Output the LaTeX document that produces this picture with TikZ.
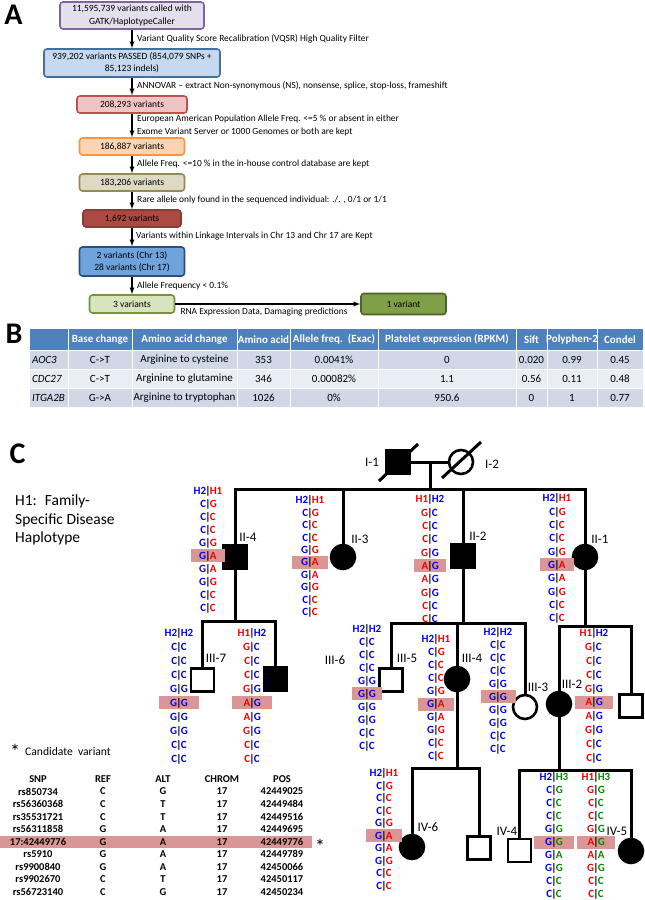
\documentclass[tikz,border=0pt]{standalone}
\usepackage{fontspec}
\setmainfont{Carlito}
\usepackage{xcolor}
\usetikzlibrary{positioning}
\definecolor{box1fill}{HTML}{E4DFEC}
\definecolor{box1line}{HTML}{8064A2}
\definecolor{box2fill}{HTML}{C6D9F0}
\definecolor{box2line}{HTML}{41719C}
\definecolor{box3fill}{HTML}{EDC5C4}
\definecolor{box3line}{HTML}{C0504D}
\definecolor{box4fill}{HTML}{FBD4B4}
\definecolor{box4line}{HTML}{F79646}
\definecolor{box5fill}{HTML}{DDD9C3}
\definecolor{box5line}{HTML}{948A54}
\definecolor{box6fill}{HTML}{AA4A43}
\definecolor{box6line}{HTML}{8C3A35}
\definecolor{box7fill}{HTML}{6FA3DC}
\definecolor{box7line}{HTML}{2A4F7F}
\definecolor{box8fill}{HTML}{D7E4BD}
\definecolor{box8line}{HTML}{77933C}
\definecolor{box9fill}{HTML}{7F9F48}
\definecolor{box9line}{HTML}{4F6228}
\definecolor{tabhead}{HTML}{4F81BD}
\definecolor{rowA}{HTML}{D0D8E8}
\definecolor{rowB}{HTML}{E9EDF4}
\definecolor{hilite}{HTML}{D99694}
\definecolor{hapblue}{HTML}{0000F0}
\definecolor{hapred}{HTML}{F00000}
\definecolor{hapgreen}{HTML}{008A00}
\tikzset{
    block/.style={
        draw, line width=1.6, rounded corners=3,
        minimum height=17, inner sep=1,
        align=center,
        font=\fontsize{9.5}{12.3}\selectfont
    },
    filterlabel/.style={anchor=west, inner sep=0, align=left, font=\fontsize{9.4}{13}\selectfont},
    line/.style={-latex, line width=1.3},
    panel/.style={inner sep=0, font=\bfseries\fontsize{30}{32}\selectfont},
    tabtext/.style={inner sep=0, font=\fontsize{11}{12}\selectfont},
    tabhd/.style={inner sep=0, text=white, font=\bfseries\fontsize{11}{12}\selectfont},
    pedline/.style={line width=3},
    male/.style={draw, rectangle, line width=2.6, minimum size=23, inner sep=0},
    female/.style={draw, circle, line width=2.6, minimum size=24, inner sep=0},
    affected/.style={fill=black},
    healthy/.style={fill=white},
    pedlabel/.style={inner sep=0, font=\fontsize{13}{14}\selectfont},
    hap/.style={inner sep=0, font=\bfseries\fontsize{11}{12}\selectfont},
    snptext/.style={inner sep=0, font=\bfseries\fontsize{10.5}{11}\selectfont}
}
% haplotype column: name, x of bar, y of header, row step, half width of mark, left colour, right colour, rows
\newcommand{\hapcol}[8]{%
    \fill[hilite] (#2-#5,#3+5*#4-6.5) rectangle (#2+#5,#3+5*#4+6.5);
    \foreach \a/\b [count=\i from 0] in {#8}{%
        \node[hap, text=#6, anchor=base east] (#1-l\i) at (#2-1.6,#3+\i*#4+3.9) {\a};
        \node[hap, anchor=base] (#1-m\i) at (#2,#3+\i*#4+3.9) {|};
        \node[hap, text=#7, anchor=base west] (#1-r\i) at (#2+1.6,#3+\i*#4+3.9) {\b};
    }%
}

\begin{document}
\begin{tikzpicture}[x=1pt, y=-1pt]
\useasboundingbox (0,0) rectangle (645,900);
\fill[white] (0,0) rectangle (645,900);

% Panel letters
\node[panel] (pA) at (13.5,14.5) {A};
\node[panel] (pB) at (14,334) {B};
\node[panel] (pC) at (17.5,454) {C};

% A: filtering steps
\node[block, fill=box1fill, draw=box1line, minimum width=144, minimum height=27] (b1) at (132,15.5) {11,595,739 variants called with\\GATK/HaplotypeCaller};
\node[block, fill=box2fill, draw=box2line, minimum width=176, minimum height=28] (b2) at (132,63) {939,202 variants PASSED (854,079 SNPs +\\85,123 indels)};
\node[block, fill=box3fill, draw=box3line, minimum width=110] (b3) at (132,104.5) {208,293 variants};
\node[block, fill=box4fill, draw=box4line, minimum width=105] (b4) at (132,146.5) {186,887 variants};
\node[block, fill=box5fill, draw=box5line, minimum width=105] (b5) at (132,182.5) {183,206 variants};
\node[block, fill=box6fill, draw=box6line, minimum width=98] (b6) at (132,218.5) {1,692 variants};
\node[block, fill=box7fill, draw=box7line, minimum width=105, minimum height=29] (b7) at (132,261.5) {2 variants (Chr 13)\\28 variants (Chr 17)};
\node[block, fill=box8fill, draw=box8line, minimum width=85, minimum height=18] (b8) at (132,304) {3 variants};
\node[block, fill=box9fill, draw=box9line, minimum width=85, minimum height=21] (b9) at (403.5,304) {1 variant};

\draw[line] (b1) -- (b2);
\draw[line] (b2) -- (b3);
\draw[line] (b3) -- (b4);
\draw[line] (b4) -- (b5);
\draw[line] (b5) -- (b6);
\draw[line] (b6) -- (b7);
\draw[line] (b7) -- (b8);
\draw[line] (b8) -- (b9);

\node[filterlabel] (f1) at (137,39) {Variant Quality Score Recalibration (VQSR) High Quality Filter};
\node[filterlabel] (f2) at (137,86) {ANNOVAR – extract Non-synonymous (NS), nonsense, splice, stop-loss, frameshift};
\node[filterlabel] (f3) at (137,125.5) {European American Population Allele Freq. <=5 \% or absent in either\\Exome Variant Server or 1000 Genomes or both are kept};
\node[filterlabel] (f4) at (137,164) {Allele Freq. <=10 \% in the in-house control database are kept};
\node[filterlabel] (f5) at (137,200) {Rare allele only found in the sequenced individual: ./. , 0/1 or 1/1};
\node[filterlabel] (f6) at (136,236) {Variants within Linkage Intervals in Chr 13 and Chr 17 are Kept};
\node[filterlabel] (f7) at (137,286) {Allele Frequency < 0.1\%};
\node[filterlabel, anchor=center] (f8) at (264,312) {RNA Expression Data, Damaging predictions};

% B: table
\fill[tabhead] (30,329) rectangle (643,350);
\fill[rowA] (30,350) rectangle (643,369);
\fill[rowB] (30,369) rectangle (643,388);
\fill[rowA] (30,388) rectangle (643,407);
\foreach \xc/\hd [count=\c] in {100/Base change, 184.5/Amino acid change, 263.5/Amino acid, 334/Allele freq.\ \ (Exac), 447/Platelet expression (RPKM), 531.5/Sift, 572/Polyphen-2, 620/Condel}
    \node[tabhd] (hd-\c) at (\xc,339.5) {\hd};
\foreach \xs in {68,132,237,290,378,516,547,597}
    \draw[white, line width=1] (\xs,329) -- (\xs,407);
\foreach \ys in {350,369,388}
    \draw[white, line width=1] (30,\ys) -- (643,\ys);
\node[tabtext, anchor=west] (g1) at (32,360) {\textit{AOC3}};
\node[tabtext, anchor=west] (g2) at (32,379) {\textit{CDC27}};
\node[tabtext, anchor=west] (g3) at (32,398) {\textit{ITGA2B}};
\foreach \xc/\v [count=\c] in {100/C->T, 184.5/Arginine to cysteine, 263.5/353, 334/0.0041\%, 447/0, 531.5/0.020, 572/0.99, 620/0.45}
    \node[tabtext] (aoc-\c) at (\xc,360) {\v};
\foreach \xc/\v [count=\c] in {100/C->T, 184.5/Arginine to glutamine, 263.5/346, 334/0.00082\%, 447/1.1, 531.5/0.56, 572/0.11, 620/0.48}
    \node[tabtext] (cdc-\c) at (\xc,379) {\v};
\foreach \xc/\v [count=\c] in {100/G->A, 184.5/Arginine to tryptophan, 263.5/1026, 334/0\%, 447/950.6, 531.5/0, 572/1, 620/0.77}
    \node[tabtext] (itg-\c) at (\xc,398) {\v};

% C: pedigree
\node[inner sep=0, anchor=north west, align=left, font=\fontsize{15.5}{18.5}\selectfont] (h1note) at (15,495) {H1:\hspace{8pt}Family-\\Specific Disease\\Haplotype};

% Generation I
\node[male, affected] (I1) at (398,462) {};
\node[female, healthy] (I2) at (461,462) {};
\draw[pedline] (I1) -- (I2);
\draw[pedline] ([shift={(-19,19)}]I1.center) -- ([shift={(20,-18)}]I1.center);
\draw[pedline] ([shift={(-19,16)}]I2.center) -- ([shift={(20,-20)}]I2.center);
\node[pedlabel] (lI1) at (372,462) {I-1};
\node[pedlabel] (lI2) at (492,464) {I-2};
\coordinate (c1) at (430,462);
\coordinate (s1) at (430,489);
\coordinate (s1r) at (585,489);
\draw[pedline] (c1) -- (s1);

% Generation II
\node[male, affected] (II4) at (235,557) {};
\node[female, affected] (II3) at (343,557) {};
\node[male, affected] (II2) at (463,556) {};
\node[female, affected] (II1) at (585,557) {};
\draw[pedline] (II4) |- (s1r) -- (II1);
\draw[pedline] (II3 |- s1r) -- (II3);
\draw[pedline] (II2 |- s1r) -- (II2);
\node[pedlabel] (lII4) at (248,537) {II-4};
\node[pedlabel] (lII3) at (360,539) {II-3};
\node[pedlabel] (lII2) at (478,536) {II-2};
\node[pedlabel] (lII1) at (600,539) {II-1};

% Generation III
\coordinate (s2) at (235,621);
\coordinate (s3) at (463,623);
\coordinate (s4) at (585,626);
\node[male, healthy] (III7) at (202.5,680) {};
\node[male, affected] (III8) at (275.5,679) {};
\node[male, healthy] (III5) at (391,680) {};
\node[female, affected] (III4) at (457,679) {};
\node[female, healthy] (III3) at (525,707) {};
\node[female, affected] (III2) at (559,704) {};
\node[male, healthy] (III1) at (631,706) {};
\draw[pedline] (II4) -- (s2);
\draw[pedline] (III7) |- (s2) -| (III8);
\draw[pedline] (II2) -- (s3);
\draw[pedline] (III5) |- (s3) -| (III3);
\draw[pedline] (III4 |- s3) -- (III4);
\draw[pedline] (II1) -- (s4);
\draw[pedline] (III2) |- (s4) -| (III1);
\node[pedlabel] (lIII7) at (216,658) {III-7};
\node[pedlabel] (lIII6) at (335,660) {III-6};
\node[pedlabel] (lIII5) at (407,658) {III-5};
\node[pedlabel] (lIII4) at (472,658) {III-4};
\node[pedlabel] (lIII3) at (538,687) {III-3};
\node[pedlabel] (lIII2) at (572,684) {III-2};

% Generation IV
\coordinate (s5) at (457,768);
\coordinate (s6) at (559,770);
\node[female, affected] (IV6) at (412,847) {};
\node[male, healthy] (IV7) at (479,848) {};
\node[male, healthy] (IV4) at (519.5,850.5) {};
\node[female, affected] (IV5) at (631,851) {};
\draw[pedline] (III4) -- (s5);
\draw[pedline] (IV6) |- (s5) -| (IV7);
\draw[pedline] (III2) -- (s6);
\draw[pedline] (IV4) |- (s6) -| (IV5);
\node[pedlabel] (lIV6) at (428,827) {IV-6};
\node[pedlabel] (lIV4) at (507,831) {IV-4};
\node[pedlabel] (lIV5) at (617,831) {IV-5};

% Haplotypes
\hapcol{hII4}{208}{491}{12.9}{17}{hapblue}{hapred}{H2/H1, C/G, C/C, C/C, G/G, G/A, G/A, G/G, C/C, C/C}
\hapcol{hII3}{310}{500}{12.4}{18}{hapblue}{hapred}{H2/H1, C/G, C/C, C/C, G/G, G/A, G/A, G/G, C/C, C/C}
\hapcol{hII2}{430}{499}{13.3}{16}{hapred}{hapblue}{H1/H2, G/C, C/C, C/C, G/G, A/G, A/G, G/G, C/C, C/C}
\hapcol{hII1}{557}{498}{13.3}{17}{hapblue}{hapred}{H2/H1, C/G, C/C, C/C, G/G, G/A, G/A, G/G, C/C, C/C}
\hapcol{hIII7}{179}{633}{13.9}{20}{hapblue}{hapblue}{H2/H2, C/C, C/C, C/C, G/G, G/G, G/G, G/G, C/C, C/C}
\hapcol{hIII8}{252}{633}{13.9}{20}{hapred}{hapblue}{H1/H2, G/C, C/C, C/C, G/G, A/G, A/G, G/G, C/C, C/C}
\hapcol{hIII5}{367}{629}{12.9}{15}{hapblue}{hapblue}{H2/H2, C/C, C/C, C/C, G/G, G/G, G/G, G/G, C/C, C/C}
\hapcol{hIII4}{436}{639}{13}{18}{hapblue}{hapred}{H2/H1, C/G, C/C, C/C, G/G, G/A, G/A, G/G, C/C, C/C}
\hapcol{hIII3}{498}{632}{12.9}{17.5}{hapblue}{hapblue}{H2/H2, C/C, C/C, C/C, G/G, G/G, G/G, G/G, C/C, C/C}
\hapcol{hIII2}{594}{633}{13.8}{19}{hapred}{hapblue}{H1/H2, G/C, C/C, C/C, G/G, A/G, A/G, G/G, C/C, C/C}
\hapcol{hIV6}{384}{773}{12.5}{18}{hapblue}{hapred}{H2/H1, C/G, C/C, C/C, G/G, G/A, G/A, G/G, C/C, C/C}
\hapcol{hIV4}{554}{777}{13}{20}{hapblue}{hapgreen}{H2/H3, C/G, C/C, C/C, G/G, G/G, G/A, G/G, C/C, C/C}
\hapcol{hIV5}{596}{777}{13}{19}{hapred}{hapgreen}{H1/H3, G/G, C/C, C/C, G/G, A/G, A/A, G/G, C/C, C/C}

% SNP list
\node[inner sep=0, font=\fontsize{20}{20}\selectfont] (star1) at (15,751) {*};
\node[inner sep=0, anchor=west, font=\fontsize{11.6}{13}\selectfont] (cand) at (25,752) {Candidate\ \ variant};
\fill[hilite] (0,836) rectangle (312,848);
\foreach \sn/\rf/\al/\ch/\ps [count=\r from 0] in {SNP/REF/ALT/CHROM/POS, rs850734/C/G/17/42449025, rs56360368/C/T/17/42449484, rs35531721/C/T/17/42449516, rs56311858/G/A/17/42449695, 17:42449776/G/A/17/42449776, rs5910/G/A/17/42449789, rs9900840/G/A/17/42450066, rs9902670/C/T/17/42450117, rs56723140/C/G/17/42450234}{
    \node[snptext] (snp-\r-1) at (38,779+\r*12.55) {\sn};
    \node[snptext] (snp-\r-2) at (103,779+\r*12.55) {\rf};
    \node[snptext] (snp-\r-3) at (163,779+\r*12.55) {\al};
    \node[snptext] (snp-\r-4) at (222,779+\r*12.55) {\ch};
    \node[snptext] (snp-\r-5) at (282,779+\r*12.55) {\ps};
}
\node[inner sep=0, font=\fontsize{20}{20}\selectfont] (star2) at (320,846) {*};

\end{tikzpicture}
\end{document}
